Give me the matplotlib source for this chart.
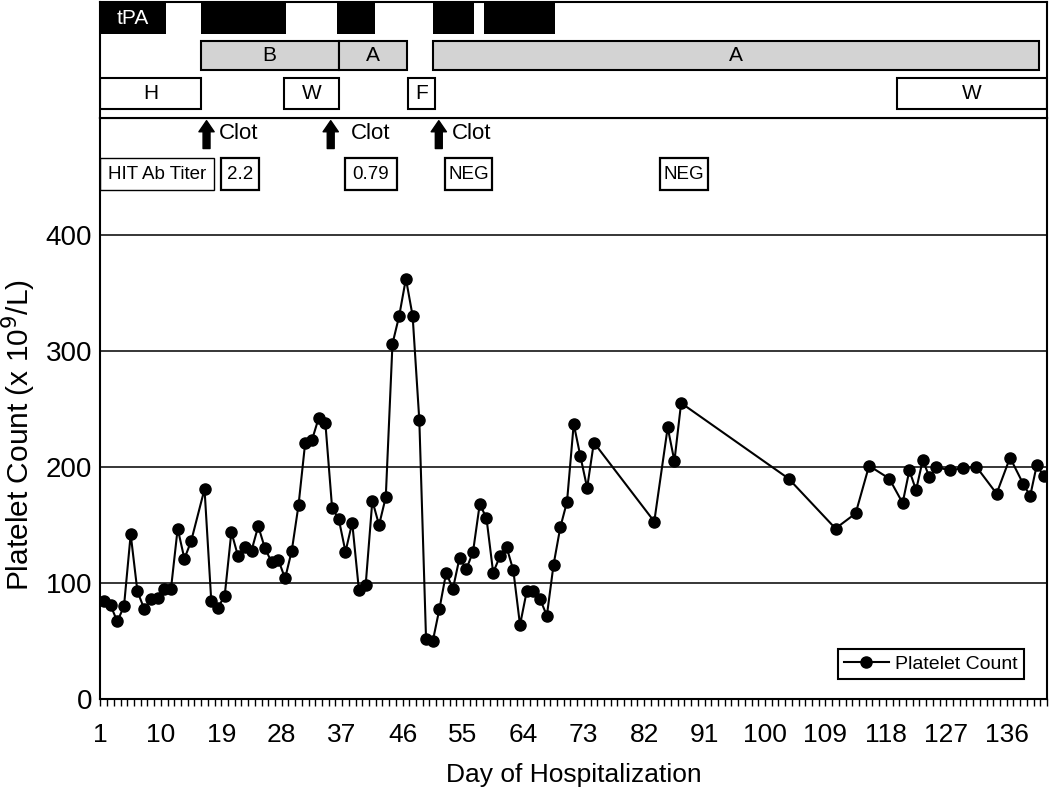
import matplotlib
matplotlib.use("Agg")
import matplotlib.pyplot as plt
from matplotlib.patches import Rectangle, FancyArrowPatch
from matplotlib import font_manager

# Platelet count [x 10^9/L] by day of hospitalization
days = [1, 2, 3, 4, 5, 6, 7, 8, 9, 10, 11, 12, 13, 14,
        16, 17, 18, 19, 20, 21, 22, 23, 24, 25, 26, 27, 28, 29, 30,
        31, 32, 33, 34, 35, 36, 37, 38, 39, 40, 41, 42, 43, 44, 45, 46,
        47, 48, 49, 50, 51, 52, 53, 54, 55, 56, 57, 58, 59, 60,
        61, 62, 63, 64, 65, 66, 67, 68, 69, 70, 71, 72, 73, 74,
        83, 85, 86, 87, 103, 110, 113, 115, 118, 120, 121, 122, 123, 124,
        125, 127, 129, 131, 134, 136, 138, 139, 140, 141]
platelets = [85, 81, 67, 80, 142, 93, 78, 86, 87, 95, 95, 147, 121, 136,
             181, 85, 79, 89, 144, 123, 131, 128, 149, 130, 118, 120, 104, 128, 167,
             221, 223, 242, 238, 165, 155, 127, 152, 94, 98, 171, 150, 174, 306, 330, 362,
             330, 240, 52, 50, 78, 109, 95, 122, 112, 127, 168, 156, 109, 123,
             131, 111, 64, 93, 93, 86, 72, 116, 148, 170, 237, 209, 182, 221,
             153, 234, 205, 255, 190, 147, 160, 201, 190, 169, 197, 180, 206, 191,
             200, 197, 199, 200, 177, 208, 185, 175, 202, 192]

# labelled days on the x axis
tick_days = list(range(1, 137, 9))
n_days = 141

# treatment timeline, (start day, end day, label)
tpa_spans = [(0.5, 10.2, "tPA"), (15.4, 28.1, ""), (35.8, 41.4, ""),
             (50.0, 56.1, ""), (57.7, 68.2, "")]
dti_spans = [(15.4, 36.0, "B"), (36.0, 46.1, "A"), (50.1, 140.3, "A")]
other_spans = [(0.5, 15.4, "H"), (27.9, 36.0, "W"), (46.3, 50.3, "F"),
               (119.1, 141.5, "W")]

# clot events: (arrow day, text day)
clots = [(16.3, 18.2), (34.8, 37.8), (50.9, 52.8)]

# HIT antibody titer boxes, (start day, end day, label)
titers = [(0.5, 17.4, "HIT Ab Titer"), (18.4, 24.1, "2.2"), (36.9, 44.6, "0.79"),
          (51.8, 58.8, "NEG"), (83.9, 91.0, "NEG")]

# fonts - narrow face if there is one, else plain Liberation Sans
names = {f.name for f in font_manager.fontManager.ttflist}
REG = "Liberation Sans"
if "Liberation Sans Narrow" in names:
    NARROW, ns = "Liberation Sans Narrow", 1.2
else:
    NARROW, ns = "Liberation Sans", 1.0
plt.rcParams['font.family'] = [REG, 'DejaVu Sans']

fig = plt.figure(figsize=(10.5, 7.91), dpi=100)
ax = fig.add_axes([0.0957, 0.1159, 0.9014, 0.7345])
top = fig.add_axes([0.0957, 0.8504, 0.9014, 0.147])

# ---- main chart ----
for v in [100, 200, 300, 400]:
    ax.axhline(v, color="black", lw=1.1, zorder=1)
ax.plot(days, platelets, color="black", lw=1.5, marker="o", ms=8,
        label="Platelet Count", zorder=3)

ax.set_xlim(0.5, n_days + 0.5)
ax.set_ylim(0, 500)
ax.set_yticks([0, 100, 200, 300, 400])
ax.set_yticklabels(["0", "100", "200", "300", "400"], fontfamily=NARROW, fontsize=20 * ns)
ax.tick_params(axis="y", length=0, pad=6)
ax.set_xticks([d - 0.5 for d in tick_days])
ax.set_xticklabels([str(d) for d in tick_days], fontfamily=NARROW, fontsize=19 * ns)
ax.set_xticks([d + 0.5 for d in range(0, n_days + 1)], minor=True)
ax.tick_params(axis="x", which="both", length=5, width=1.0, direction="out", pad=12)
for s in ax.spines.values():
    s.set_linewidth(1.5)

ax.set_xlabel("Day of Hospitalization", fontfamily=NARROW, fontsize=19 * ns)
ax.xaxis.set_label_coords(0.5, -0.11)
ax.set_ylabel("Platelet Count (x 10$^9$/L)", fontsize=21.5)
ax.yaxis.set_label_coords(-0.066, 0.455)

leg = ax.legend(loc="lower right", bbox_to_anchor=(0.9757, 0.0356), borderaxespad=0,
                fancybox=False, framealpha=1, edgecolor="black", fontsize=14,
                handlelength=2.3, handletextpad=0.35, borderpad=0.3)
leg.get_frame().set_linewidth(1.5)

# clot arrows
for d_arrow, d_text in clots:
    arr = FancyArrowPatch((d_arrow, 474), (d_arrow, 498),
                          arrowstyle="simple,head_length=0.8,head_width=1.1,tail_width=0.5",
                          mutation_scale=10, color="black", shrinkA=0, shrinkB=0)
    ax.add_patch(arr)
    ax.text(d_text, 487, "Clot", fontsize=16, va="center", ha="left")

# titer boxes
for i, (d0, d1, lab) in enumerate(titers):
    ax.add_patch(Rectangle((d0, 438), d1 - d0, 27.5, fill=False, ec="black",
                           lw=1.0 if i == 0 else 1.6, zorder=4))
    ax.text((d0 + d1) / 2, 451.5, lab, fontsize=13.5, ha="center", va="center")

# ---- treatment timeline ----
top.set_xlim(0.5, n_days + 0.5)
top.set_ylim(0, 1)
top.set_xticks([])
top.set_yticks([])
for s in top.spines.values():
    s.set_linewidth(1.5)

for d0, d1, lab in tpa_spans:
    top.add_patch(Rectangle((d0, 0.727), d1 - d0, 0.28, color="black", lw=0))
    if lab:
        top.text((d0 + d1) / 2, 0.86, lab, color="white", fontsize=15,
                 ha="center", va="center")
for d0, d1, lab in dti_spans:
    top.add_patch(Rectangle((d0, 0.413), d1 - d0, 0.254, fc="#d3d3d3", ec="black", lw=1.5))
    top.text((d0 + d1) / 2, 0.54, lab, fontsize=15, ha="center", va="center")
for d0, d1, lab in other_spans:
    top.add_patch(Rectangle((d0, 0.08), d1 - d0, 0.269, fc="white", ec="black", lw=1.5))
    top.text((d0 + d1) / 2, 0.215, lab, fontsize=15, ha="center", va="center")

fig.savefig("out.png", dpi=100)
